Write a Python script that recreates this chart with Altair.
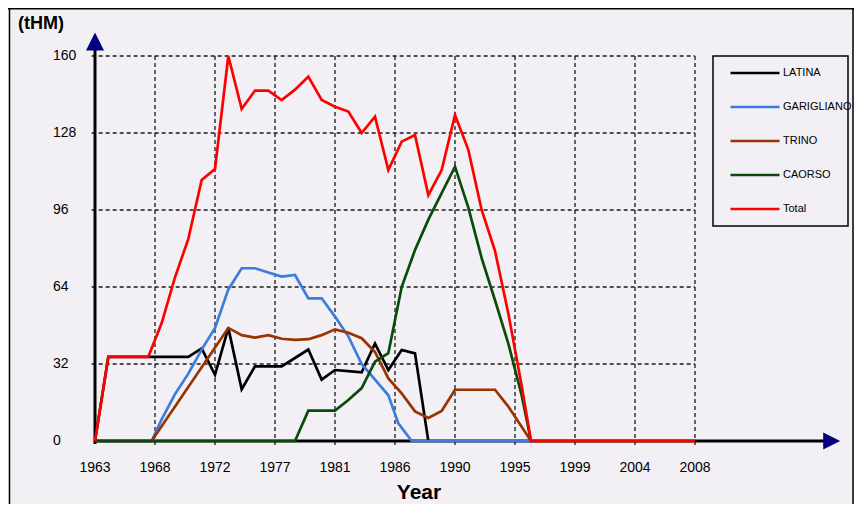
import altair as alt
import pandas as pd

# ---------------- data ----------------
series_names = ["LATINA", "GARIGLIANO", "TRINO", "CAORSO", "Total"]
series_colors = ["#000000", "#3b7ddd", "#993300", "#0a4a0a", "#ff0000"]

latina_years = [1963, 1964, 1967, 1970, 1971, 1972, 1973, 1974, 1975, 1976, 1977, 1978,
                1979, 1980, 1981, 1982, 1983, 1984, 1985, 1986, 1987, 1988]
latina_values = [0, 35, 35, 35, 38.5, 27.5, 47, 21.5, 31, 31, 31, 34.5,
                 38, 25.5, 29.5, 29, 28.5, 40.5, 29.5, 37.8, 36.4, 0]

garigliano_years = [1963, 1967.25, 1968, 1969, 1970, 1971, 1972, 1973, 1974, 1975, 1976,
                    1977, 1978, 1979, 1980, 1981, 1982, 1983, 1984, 1985, 1985.75,
                    1986.75, 1995.7]
garigliano_values = [0, 0, 9, 19.5, 28, 38, 47, 63, 71.8, 71.8, 70,
                     68.3, 69, 59.3, 59.3, 51.7, 43.5, 32, 25.5, 19, 7.3,
                     0, 0]

trino_years = [1963, 1967.25, 1973, 1974, 1975, 1976, 1977, 1978, 1979, 1980, 1981,
               1982, 1983, 1984, 1985, 1986, 1987, 1988, 1989, 1990, 1993, 1994,
               1995.7, 2008]
trino_values = [0, 0, 47, 44, 43, 44, 42.5, 42, 42.3, 44, 46.4,
                45, 42.7, 37, 26, 19.8, 12.3, 9.6, 12.5, 21.3, 21.3, 14.3,
                0, 0]

caorso_years = [1963, 1978, 1979, 1980, 1981, 1982, 1983, 1984, 1985, 1986, 1987,
                1988, 1989, 1990, 1991, 1992, 1993, 1994, 1995, 1995.7]
caorso_values = [0, 0, 12.6, 12.6, 12.6, 17, 22, 33, 36.5, 64, 79.4,
                 92, 103, 114, 97, 76, 58.5, 40.5, 19, 0]

total_years = [1963, 1964, 1967, 1968, 1969, 1970, 1971, 1972, 1973, 1974, 1975, 1976,
               1977, 1978, 1979, 1980, 1981, 1982, 1983, 1984, 1985, 1986, 1987, 1988,
               1989, 1990, 1991, 1992, 1993, 1994, 1995, 1995.7, 2008]
total_values = [0, 35, 35, 49, 68, 84, 108.5, 113, 160, 138, 145.6, 145.6,
                141.7, 146, 151.4, 141.7, 138.9, 136.9, 128, 134.8, 112.6, 124.4, 127.2, 102.2,
                112.6, 135.5, 121, 96, 79, 53, 23, 0, 0]

x_tick_values = [1963, 1967.5, 1972, 1976.5, 1981, 1985.5, 1990, 1994.5, 1999, 2003.5, 2008]
x_tick_labels = ["1963", "1968", "1972", "1977", "1981", "1986", "1990", "1995", "1999", "2004", "2008"]
y_tick_values = [0, 32, 64, 96, 128, 160]

# ---------------- layout ----------------
W, H = 846, 496
PX_PER_YEAR = 600 / 45.0
PX_PER_UNIT = 385 / 160.0
X0 = 1963 - 87 / PX_PER_YEAR
X1 = X0 + W / PX_PER_YEAR
Y1 = 160 + 48 / PX_PER_UNIT
Y0 = Y1 - H / PX_PER_UNIT

FONT = "Liberation Sans"
BG = "#f2f0f4"
GRID = "#1a1a1a"

x_scale = alt.Scale(domain=[X0, X1], nice=False, zero=False)
y_scale = alt.Scale(domain=[Y0, Y1], nice=False, zero=False)
color_scale = alt.Scale(domain=series_names, range=series_colors)

X = lambda f: alt.X(f, type="quantitative", scale=x_scale, axis=None)
Y = lambda f: alt.Y(f, type="quantitative", scale=y_scale, axis=None)

legend = alt.Legend(
    title=None, orient="none", legendX=721, legendY=39, padding=0,
    symbolType="stroke", symbolSize=2401, symbolStrokeWidth=2.7,
    labelFont=FONT, labelFontSize=11, labelColor="#000000", labelOffset=2,
    rowPadding=2, labelLimit=200,
)

# grid
vgrid_df = pd.DataFrame({"x": x_tick_values[1:]})
vgrid_df["y0"] = -1.7
vgrid_df["y1"] = 160
vgrid = alt.Chart(vgrid_df).mark_rule(color=GRID, strokeWidth=1.3, strokeDash=[4, 3]).encode(
    x=X("x"), y=Y("y0"), y2="y1")

hgrid_df = pd.DataFrame({"y": y_tick_values[1:]})
hgrid_df["x0"] = 1962.75
hgrid_df["x1"] = 2008
hgrid = alt.Chart(hgrid_df).mark_rule(color=GRID, strokeWidth=1.3, strokeDash=[4, 3]).encode(
    y=Y("y"), x=X("x0"), x2="x1")

# axes lines
one = pd.DataFrame({"a": [0]})
yaxis_line = alt.Chart(one).mark_rule(color="#000000", strokeWidth=3).encode(
    x=alt.X(datum=1963, type="quantitative", scale=x_scale, axis=None),
    y=alt.Y(datum=-1.2, type="quantitative", scale=y_scale, axis=None),
    y2=alt.Y2(datum=163))
xaxis_line = alt.Chart(one).mark_rule(color="#000000", strokeWidth=3).encode(
    y=alt.Y(datum=0, type="quantitative", scale=y_scale, axis=None),
    x=alt.X(datum=1963, type="quantitative", scale=x_scale, axis=None),
    x2=alt.X2(datum=2017.8))
yarrow = alt.Chart(one).mark_point(shape="M-1,1L0,-1L1,1Z", size=324, filled=True,
                                   color="#000080", opacity=1).encode(
    x=alt.X(datum=1963, type="quantitative", scale=x_scale, axis=None),
    y=alt.Y(datum=166, type="quantitative", scale=y_scale, axis=None))
xarrow = alt.Chart(one).mark_point(shape="M-1,-1L1,0L-1,1Z", size=289, filled=True,
                                   color="#000080", opacity=1).encode(
    x=alt.X(datum=2018.25, type="quantitative", scale=x_scale, axis=None),
    y=alt.Y(datum=0, type="quantitative", scale=y_scale, axis=None))

# tick labels
xlab_df = pd.DataFrame({"x": x_tick_values, "label": x_tick_labels})
xlab_df["y"] = 0
xlabels = alt.Chart(xlab_df).mark_text(font=FONT, fontSize=14, color="#000000", dy=27,
                                       align="center", baseline="middle").encode(
    x=X("x"), y=Y("y"), text="label:N")

ylab_df = pd.DataFrame({"y": y_tick_values})
ylab_df["x"] = 1963
ylabels = alt.Chart(ylab_df).mark_text(font=FONT, fontSize=14, color="#000000", dx=-42,
                                       align="left", baseline="middle").encode(
    x=X("x"), y=Y("y"), text=alt.Text("y:Q", format="d"))

# titles
ytitle = alt.Chart(one).mark_text(text="(tHM)", font=FONT, fontSize=18, fontWeight="bold",
                                  color="#000000", align="left", baseline="middle").encode(
    x=alt.value(10), y=alt.value(16))
xtitle = alt.Chart(one).mark_text(text="Year", font=FONT, fontSize=21, fontWeight="bold",
                                  color="#000000", align="center", baseline="middle").encode(
    x=alt.value(411), y=alt.value(485))

# legend box and frame
legend_box = alt.Chart(one).mark_rect(fill=None, stroke="#000000", strokeWidth=1.5).encode(
    x=alt.value(705), x2=alt.value(840), y=alt.value(48), y2=alt.value(218))
frame_left = alt.Chart(one).mark_rule(color="#000000", strokeWidth=1.5).encode(
    x=alt.value(1.5), y=alt.value(0), y2=alt.value(H))
frame_top = alt.Chart(one).mark_rule(color="#000000", strokeWidth=1.5).encode(
    y=alt.value(0.75), x=alt.value(0), x2=alt.value(W))
frame_right = alt.Chart(one).mark_rule(color="#000000", strokeWidth=1.5).encode(
    x=alt.value(W - 1), y=alt.value(0), y2=alt.value(H))

# series lines
series_data = [
    ("LATINA", latina_years, latina_values),
    ("GARIGLIANO", garigliano_years, garigliano_values),
    ("TRINO", trino_years, trino_values),
    ("CAORSO", caorso_years, caorso_values),
    ("Total", total_years, total_values),
]
lines = []
for name, yrs, vals in series_data:
    df = pd.DataFrame({"year": yrs, "value": vals, "series": name})
    lines.append(
        alt.Chart(df).mark_line(strokeWidth=2.7).encode(
            x=X("year"), y=Y("value"),
            color=alt.Color("series:N", scale=color_scale, legend=legend),
        )
    )

chart = alt.layer(
    frame_left, frame_top, frame_right,
    vgrid, hgrid, yaxis_line, xaxis_line, yarrow, xarrow,
    xlabels, ylabels, ytitle, xtitle, legend_box,
    *lines,
).properties(
    width=W, height=H, padding=0, autosize=alt.AutoSizeParams(type="none"),
    background=BG,
).configure_view(stroke=None)

chart.save("out.html", embed_options={"renderer": "svg", "actions": False})
